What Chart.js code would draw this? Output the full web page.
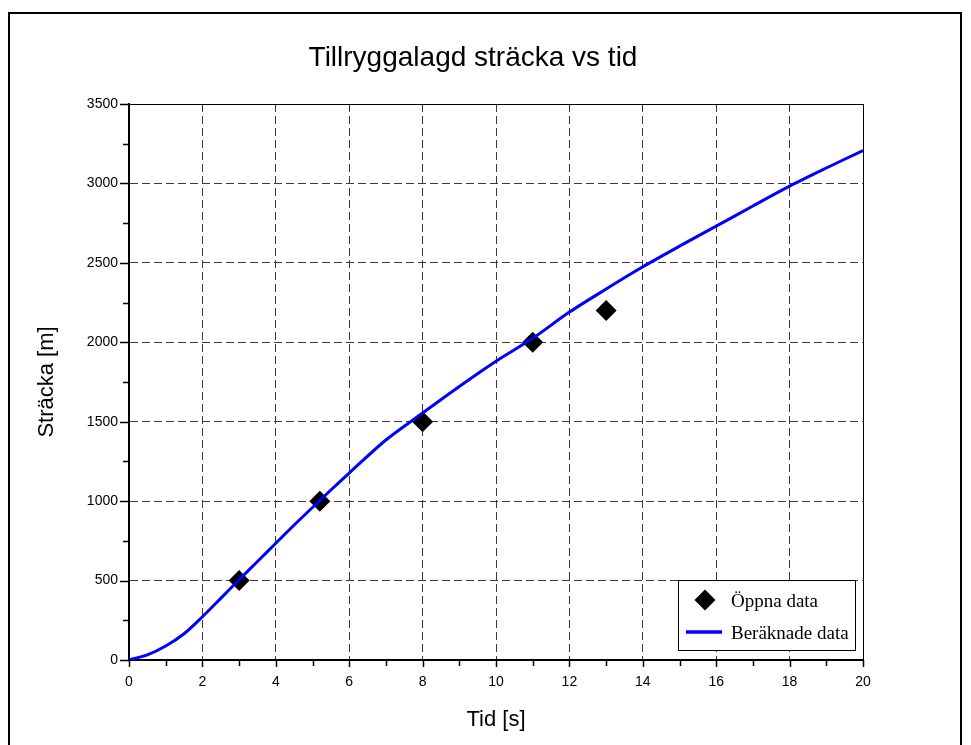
<!DOCTYPE html>
<html>
<head>
<meta charset="utf-8">
<title>Tillryggalagd sträcka vs tid</title>
<script src="https://cdn.jsdelivr.net/npm/chart.js@4.4.1/dist/chart.umd.min.js"></script>
<style>
    html, body { margin: 0; padding: 0; background: #fff; overflow: hidden; }
    #wrap { position: relative; width: 971px; height: 745px; }
    #frame {
        position: absolute; left: 8px; top: 12px; width: 950px; height: 800px;
        border: 2px solid #000; pointer-events: none;
    }
    canvas { position: absolute; left: 0; top: 0; }
</style>
</head>
<body>
<div id="wrap">
    <canvas id="chart" width="971" height="745"></canvas>
    <div id="frame"></div>
</div>
<script>
// Beräknade data (blue curve)
const curveTime = [0, 0.5, 1, 1.5, 2, 2.5, 3, 3.5, 4, 4.5, 5, 5.5, 6, 7, 8, 9, 10, 11, 12, 13, 14, 15, 16, 17, 18, 19, 20];
const curveDist = [0, 32, 88, 165, 272, 388, 505, 620, 735, 850, 960, 1070, 1177, 1385, 1555, 1722, 1881, 2025, 2190, 2335, 2475, 2605, 2731, 2858, 2983, 3097, 3207];

// Öppna data (diamonds)
const measTime = [3, 5.2, 8, 11, 13];
const measDist = [500, 1000, 1500, 2000, 2200];

const xTickValues = [0, 2, 4, 6, 8, 10, 12, 14, 16, 18, 20];
const yTickValues = [0, 500, 1000, 1500, 2000, 2500, 3000, 3500];

const chartTitle = 'Tillryggalagd sträcka vs tid';

const sans = "'Liberation Sans', Arial, sans-serif";
const serif = "'Liberation Serif', 'Times New Roman', serif";

// title, top/right frame, outward major + minor ticks
const axisDecor = {
    id: 'axisDecor',
    afterDraw(chart) {
        const { ctx, chartArea: a, scales: { x, y } } = chart;
        ctx.save();
        ctx.fillStyle = '#000';
        ctx.font = '28px ' + sans;
        ctx.textAlign = 'center';
        ctx.textBaseline = 'middle';
        ctx.fillText(chartTitle, 473, 58);

        ctx.strokeStyle = '#000';
        ctx.lineWidth = 1;
        ctx.beginPath();
        ctx.moveTo(a.left, a.top + 0.5);
        ctx.lineTo(a.right + 0.5, a.top + 0.5);
        ctx.lineTo(a.right + 0.5, a.bottom);
        ctx.stroke();

        ctx.lineWidth = 1.5;
        ctx.beginPath();
        for (let v = 0; v <= 20; v += 1) {
            const px = Math.round(x.getPixelForValue(v)) + 0.5;
            const len = v % 2 === 0 ? 7 : 6;
            ctx.moveTo(px, a.bottom);
            ctx.lineTo(px, a.bottom + len);
        }
        for (let v = 0; v <= 3500; v += 250) {
            const py = Math.round(y.getPixelForValue(v)) + 0.5;
            const len = v % 500 === 0 ? 9 : 6;
            ctx.moveTo(a.left, py);
            ctx.lineTo(a.left - len, py);
        }
        ctx.stroke();
        ctx.restore();
    }
};

// legend box in the lower right corner
const boxLegend = {
    id: 'boxLegend',
    afterDraw(chart) {
        const { ctx } = chart;
        const ds = chart.data.datasets;
        const bx = 678.5, by = 580.5, bw = 177, bh = 70;
        ctx.save();
        ctx.fillStyle = '#fff';
        ctx.fillRect(bx, by, bw, bh);
        ctx.strokeStyle = '#000';
        ctx.lineWidth = 1;
        ctx.strokeRect(bx, by, bw, bh);

        // diamond
        const cx = 705, cy = 600, r = 10.5;
        ctx.fillStyle = '#000';
        ctx.beginPath();
        ctx.moveTo(cx, cy - r);
        ctx.lineTo(cx + r, cy);
        ctx.lineTo(cx, cy + r);
        ctx.lineTo(cx - r, cy);
        ctx.closePath();
        ctx.fill();

        // line sample
        ctx.strokeStyle = '#0000ff';
        ctx.lineWidth = 3.5;
        ctx.beginPath();
        ctx.moveTo(686, 632);
        ctx.lineTo(722, 632);
        ctx.stroke();

        ctx.fillStyle = '#000';
        ctx.font = '19px ' + serif;
        ctx.textBaseline = 'alphabetic';
        ctx.textAlign = 'left';
        ctx.fillText(ds[1].label, 731, 607);
        ctx.fillText(ds[0].label, 731, 639);
        ctx.restore();
    }
};

new Chart(document.getElementById('chart').getContext('2d'), {
    type: 'scatter',
    data: {
        datasets: [
            {
                label: 'Beräknade data',
                data: curveTime.map((t, i) => ({ x: t, y: curveDist[i] })),
                showLine: true,
                borderColor: '#0000ff',
                borderWidth: 3,
                pointRadius: 0,
                tension: 0.3,
                order: 0
            },
            {
                label: 'Öppna data',
                data: measTime.map((t, i) => ({ x: t, y: measDist[i] })),
                showLine: false,
                pointStyle: 'rectRot',
                pointRadius: 10.5,
                pointBackgroundColor: '#000',
                pointBorderColor: '#000',
                pointBorderWidth: 0,
                order: 1
            }
        ]
    },
    options: {
        responsive: false,
        animation: false,
        layout: { padding: { left: 0, right: 108, top: 104, bottom: 0 } },
        plugins: {
            legend: { display: false },
            tooltip: { enabled: false },
            title: { display: false }
        },
        scales: {
            x: {
                type: 'linear',
                min: 0,
                max: 20,
                afterBuildTicks: s => { s.ticks = xTickValues.map(v => ({ value: v })); },
                afterFit: s => { s.height = 85; },
                grid: { color: '#3a3a3a', lineWidth: 1, drawTicks: false },
                border: { display: true, color: '#000', width: 2, dash: [8, 4] },
                ticks: {
                    color: '#000',
                    font: { family: sans, size: 14 },
                    padding: 14,
                    maxRotation: 0,
                    callback: v => String(v)
                },
                title: {
                    display: true,
                    text: 'Tid [s]',
                    color: '#000',
                    font: { family: sans, size: 22 },
                    padding: { top: 0, bottom: 12 }
                }
            },
            y: {
                type: 'linear',
                min: 0,
                max: 3500,
                afterBuildTicks: s => { s.ticks = yTickValues.map(v => ({ value: v })); },
                afterFit: s => { s.width = 129; },
                grid: { color: '#3a3a3a', lineWidth: 1, drawTicks: false },
                border: { display: true, color: '#000', width: 2, dash: [8, 4] },
                ticks: {
                    color: '#000',
                    font: { family: sans, size: 14 },
                    padding: 11,
                    callback: v => String(v)
                },
                title: {
                    display: true,
                    text: 'Sträcka [m]',
                    color: '#000',
                    font: { family: sans, size: 22 },
                    padding: { top: 34, bottom: 0 }
                }
            }
        }
    },
    plugins: [axisDecor, boxLegend]
});
</script>
</body>
</html>
